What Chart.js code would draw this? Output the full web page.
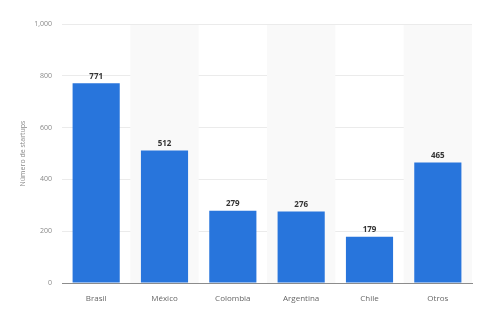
<!DOCTYPE html>
<html>
<head>
<meta charset="utf-8">
<script src="https://cdn.jsdelivr.net/npm/chart.js@4"></script>
<style>
    html, body { margin: 0; padding: 0; background: #fff; }
    #wrap { width: 480px; height: 315px; }
</style>
</head>
<body>
<div id="wrap"><canvas id="startups" width="480" height="315"></canvas></div>
<script>
const paises = ["Brasil", "México", "Colombia", "Argentina", "Chile", "Otros"]
const startups = [771, 512, 279, 276, 179, 465]
const ticksY = [0, 200, 400, 600, 800, 1000]

const azul = "#2875dc"

// columnas sombreadas alternas (México, Argentina, Otros)
const sombras = {
    id: "sombras",
    beforeDatasetsDraw(chart) {
        const ctx = chart.ctx
        const x = chart.scales.x
        const area = chart.chartArea
        const ancho = (area.right - area.left) / paises.length
        ctx.save()
        ctx.fillStyle = "#f9f9f9"
        for (let i = 1; i < paises.length; i += 2) {
            let cx = x.getPixelForValue(i)
            ctx.fillRect(cx - ancho / 2, area.top + 1, ancho, area.bottom - area.top - 1)
        }
        ctx.restore()
    }
}

// valores encima de cada barra
const etiquetas = {
    id: "etiquetas",
    afterDatasetsDraw(chart) {
        const ctx = chart.ctx
        const meta = chart.getDatasetMeta(0)
        ctx.save()
        ctx.font = "bold 8px 'Open Sans', sans-serif"
        ctx.fillStyle = "#333"
        ctx.textAlign = "center"
        ctx.textBaseline = "middle"
        meta.data.forEach((bar, i) => {
            ctx.fillText(startups[i], bar.x, bar.y - 7)
        })
        ctx.restore()
    }
}

const canvas = document.getElementById("startups")

var grafico = new Chart(canvas, {
    type: "bar",
    data: {
        labels: paises,
        datasets: [
            {
                label: "Número de startups",
                data: startups,
                backgroundColor: azul,
                categoryPercentage: 0.69,
                barPercentage: 1
            }
        ]
    },
    options: {
        responsive: false,
        animation: false,
        layout: { padding: { top: 24, right: 8, left: 0, bottom: 0 } },
        plugins: {
            legend: { display: false },
            tooltip: { enabled: false }
        },
        scales: {
            x: {
                grid: { display: false },
                border: { color: "#8c8c8c", width: 1 },
                ticks: {
                    color: "#666",
                    font: { family: "'Open Sans', sans-serif", size: 8 },
                    padding: 3
                },
                afterFit(scale) { scale.height = 32 }
            },
            y: {
                min: 0,
                max: 1000,
                afterBuildTicks(scale) {
                    scale.ticks = ticksY.map(v => ({ value: v }))
                },
                grid: { color: "#ebebeb", drawTicks: false },
                border: { display: false },
                ticks: {
                    color: "#888",
                    font: { family: "'Open Sans', sans-serif", size: 7 },
                    padding: 10,
                    callback: v => v.toLocaleString("en-US")
                },
                title: {
                    display: true,
                    text: "Número de startups",
                    color: "#888",
                    font: { family: "'Open Sans', sans-serif", size: 7 },
                    padding: { top: 19, bottom: 0 }
                },
                afterFit(scale) { scale.width = 62 }
            }
        }
    },
    plugins: [sombras, etiquetas]
})
</script>
</body>
</html>
